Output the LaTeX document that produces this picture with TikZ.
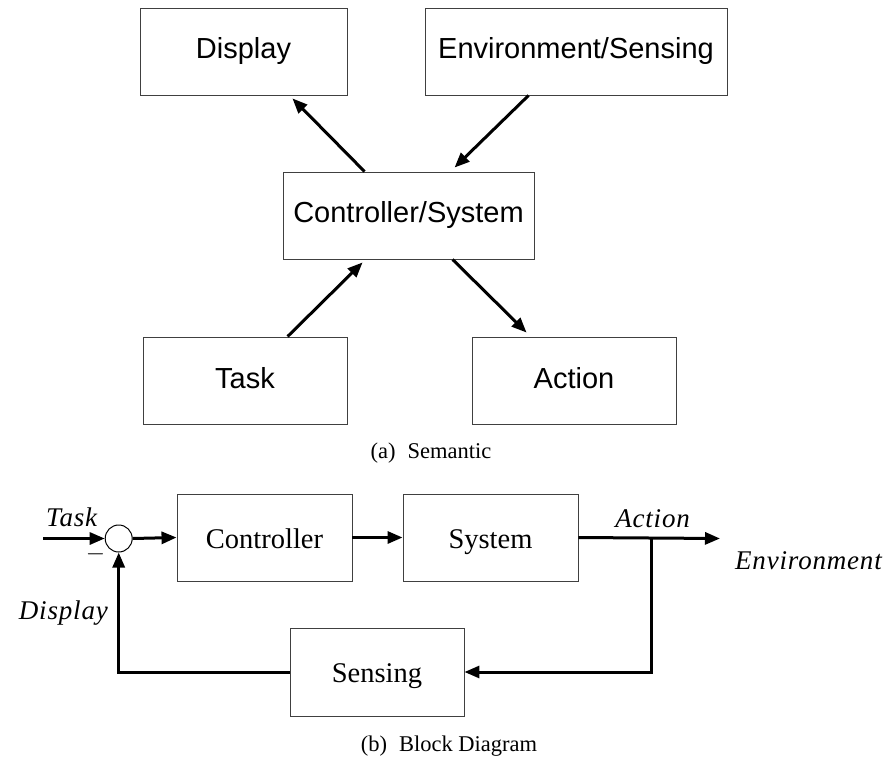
\documentclass[tikz,border=0pt]{standalone}
\usepackage{fontspec}
\setmainfont{Liberation Serif}
\newfontfamily\boxsans{Liberation Sans}
\newfontfamily\sigfont{Liberation Serif}[LetterSpace=3]
\usetikzlibrary{arrows.meta}

\begin{document}
\begin{tikzpicture}[x=1pt,y=-1pt,
  blk/.style={draw=black!75, line width=0.9pt, rectangle, inner sep=0pt},
  semlabel/.style={font=\boxsans\fontsize{29}{34}\selectfont, text height=21pt, text depth=6pt},
  bdlabel/.style={font=\fontsize{28.5}{34}\selectfont, text height=24pt, text depth=3pt},
  sig/.style={font=\sigfont\itshape\fontsize{27}{30}\selectfont, inner sep=0pt},
  capt/.style={font=\fontsize{22.5}{27}\selectfont, inner sep=0pt},
  flow/.style={line width=3pt, -{Triangle[length=15pt,width=12pt]}}]

\useasboundingbox (0,0) rectangle (888,759);

% ---------- (a) semantic view ----------
\node[blk, semlabel, minimum width=207pt, minimum height=87pt] (disp) at (243.5,51.5) {Display};
\node[blk, semlabel, minimum width=302pt, minimum height=87pt] (env)  at (576,51.5)   {Environment/Sensing};
\node[blk, semlabel, minimum width=251pt, minimum height=87pt] (ctrl) at (408.5,215.5) {Controller/System};
\node[blk, semlabel, minimum width=204pt, minimum height=87pt] (task) at (245,380.5)  {Task};
\node[blk, semlabel, minimum width=204pt, minimum height=87pt] (act)  at (574,380.5)  {Action};

\draw[flow] ([xshift=82pt]ctrl.north west) -- ([xshift=-55pt,yshift=-3pt]disp.south east);
\draw[flow] ([xshift=104pt]env.south west) -- ([xshift=172pt,yshift=4pt]ctrl.north west);
\draw[flow] ([xshift=145pt]task.north west) -- ([xshift=80pt,yshift=-3pt]ctrl.south west);
\draw[flow] ([xshift=170pt]ctrl.south west) -- ([xshift=55pt,yshift=4pt]act.north west);

\node[capt] (capa) at (431,453) {(a)\hspace{12pt}Semantic};

% ---------- (b) block diagram ----------
\node[draw=black, line width=1pt, circle, minimum size=27pt, inner sep=0pt] (sum) at (118.7,538.5) {};
\node[blk, bdlabel, minimum width=175pt, minimum height=87pt] (c2)   at (264.5,537.5) {Controller};
\node[blk, bdlabel, minimum width=175pt, minimum height=87pt] (sys)  at (490.5,537.5) {System};
\node[blk, bdlabel, minimum width=174pt, minimum height=88pt] (sens) at (377,672)     {Sensing};

\coordinate (tin)  at (43,538.5);
\coordinate (aout) at (720,538.5);
\coordinate (br)   at (651.7,538.5);

\draw[flow] (tin) -- (sum.west);
\draw[flow] (sum.east) -- (c2.west);
\draw[flow] (c2.east) -- (sys.west);
\draw[flow] (sys.east) -- (aout);
\draw[flow] (br) |- (sens.east);
\draw[flow] (sens.west) -| (sum.south);

\node[sig, anchor=base west] (ltask) at (46,526)  {Task};
\node[sig, anchor=base east] (ldisp) at (108,619) {Display};
\node[sig, anchor=base east] (lact)  at (690,527) {Action};
\node[sig, anchor=base west] (lenv)  at (735,569) {Environment};
\node[font=\fontsize{24}{24}\selectfont, inner sep=0pt, anchor=base] (neg) at (95.5,560) {$-$};

\node[capt] (capb) at (449,746) {(b)\hspace{12pt}Block Diagram};
\end{tikzpicture}
\end{document}
